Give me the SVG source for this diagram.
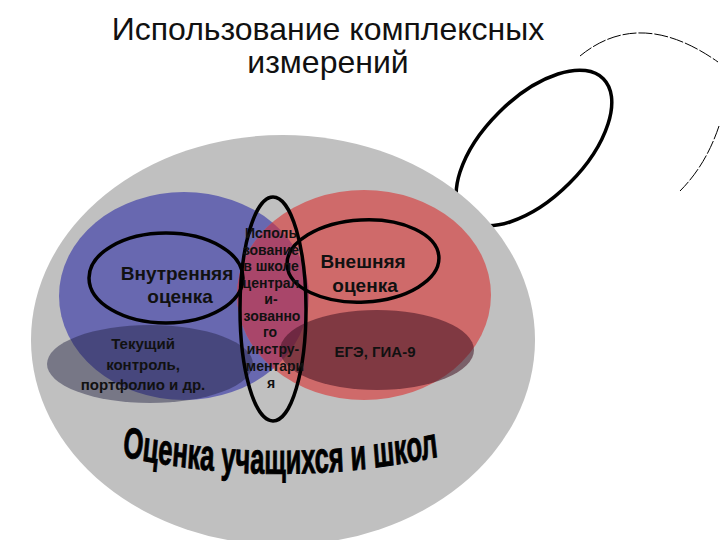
<svg xmlns="http://www.w3.org/2000/svg" width="720" height="540" viewBox="0 0 720 540">
<defs>
<style>
.ttl{font-family:"Liberation Sans",Arial,sans-serif;font-size:32px;fill:#111;text-anchor:middle}
.lbl{font-family:"Liberation Sans",Arial,sans-serif;font-weight:bold;fill:#111;text-anchor:middle}
.big{font-size:19px}
.mid{font-size:15px}
.sm{font-size:14px}
.ring{fill:none;stroke:#000;stroke-width:3.5}
.thin{fill:none;stroke:#000;stroke-width:1;stroke-dasharray:14 2}
</style>
<clipPath id="blueClip"><ellipse cx="184" cy="296" rx="125" ry="104"/></clipPath>
<path id="arcPath" d="M122,338 Q280,364 440,338"/>
</defs>
<rect width="720" height="540" fill="#fff"/>
<g id="title">
<text class="ttl" x="328" y="40">Использование комплексных</text>
<text class="ttl" x="328" y="73">измерений</text>
</g>
<g id="decor">
<path class="thin" d="M580,56 Q640,7 718,62"/>
<path class="thin" d="M719,126 Q706,165 680,191"/>
<ellipse class="ring" cx="534" cy="148" rx="98" ry="50" transform="rotate(-45 534 148)" stroke-width="4"/>
</g>
<g id="outer">
<ellipse cx="283" cy="340" rx="252" ry="205" fill="#c0c0c0"/>
</g>
<g id="internal">
<ellipse cx="184" cy="296" rx="125" ry="104" fill="#6868b0"/>
</g>
<g id="external">
<ellipse cx="364" cy="295" rx="127" ry="105" fill="#cf6a6a"/>
<ellipse cx="364" cy="295" rx="127" ry="105" fill="#a9466a" clip-path="url(#blueClip)"/>
</g>
<g id="current">
<ellipse cx="150" cy="364" rx="103" ry="39" fill="#202040" fill-opacity="0.45"/>
</g>
<g id="exams">
<ellipse cx="377" cy="350" rx="97" ry="40" fill="#401020" fill-opacity="0.55"/>
</g>
<g id="connectors">
<ellipse class="ring" cx="166" cy="278" rx="77" ry="45"/>
<ellipse class="ring" cx="363" cy="261" rx="76" ry="41" transform="rotate(-3 363 261)"/>
<ellipse class="ring" cx="273" cy="309" rx="33" ry="112"/>
</g>
<g id="labels">
<text class="lbl big" x="177" y="280">Внутренняя</text>
<text class="lbl big" x="180" y="303">оценка</text>
<text class="lbl big" x="363" y="268">Внешняя</text>
<text class="lbl big" x="365" y="292">оценка</text>
<text class="lbl mid" x="143" y="349">Текущий</text>
<text class="lbl mid" x="143" y="370">контроль,</text>
<text class="lbl mid" x="143" y="390">портфолио и др.</text>
<text class="lbl mid" x="375" y="357">ЕГЭ, ГИА-9</text>
<text class="lbl sm" x="271" y="238">Исполь</text>
<text class="lbl sm" x="271" y="255">зование</text>
<text class="lbl sm" x="271" y="271">в школе</text>
<text class="lbl sm" x="271" y="288">централ</text>
<text class="lbl sm" x="271" y="304">и-</text>
<text class="lbl sm" x="272" y="321">зованно</text>
<text class="lbl sm" x="270" y="337">го</text>
<text class="lbl sm" x="273" y="354">инстру-</text>
<text class="lbl sm" x="275" y="371">ментари</text>
<text class="lbl sm" x="271" y="388">я</text>
</g>
<g id="caption">
<text transform="scale(1,1.35)" style="font-family:'Liberation Sans',Arial,sans-serif;font-weight:bold;font-size:32px;fill:#000;stroke:#000;stroke-width:0.7"><textPath href="#arcPath" textLength="318" lengthAdjust="spacingAndGlyphs">Оценка учащихся и школ</textPath></text>
</g>
</svg>
